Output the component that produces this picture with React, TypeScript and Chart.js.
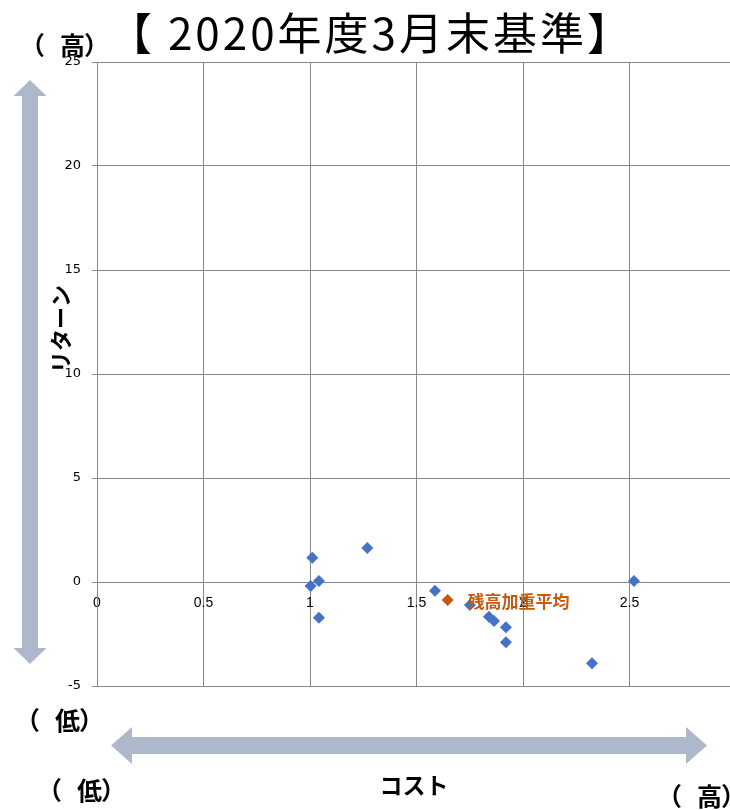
import React, { useEffect, useRef } from "react";
import { Chart, registerables } from "chart.js";

Chart.register(...registerables);

// Fund points: cost (x) and return (y)
const fundCosts = [1.011, 1.269, 1.042, 1.003, 1.042, 1.587, 1.751, 1.840, 1.864, 1.920, 1.920, 2.324, 2.521];
const fundReturns = [1.17, 1.63, 0.05, -0.19, -1.72, -0.42, -1.10, -1.67, -1.88, -2.18, -2.90, -3.91, 0.05];

// Balance-weighted average
const avgCosts = [1.646];
const avgReturns = [-0.87];
const avgLabel = "残高加重平均";

const titleText = "【 2020年度3月末基準】";
const yAxisTitle = "リターン";
const xAxisTitle = "コスト";
const highChar = "高";
const lowChar = "低";

const xMin = 0;
const xMax = 3;
const xStep = 0.5;
const yMin = -5;
const yMax = 25;
const yStep = 5;

const BLUE = "#4472C4";
const ORANGE = "#C55A11";
const ARROW = "#ADB9CA";
const GRID = "#888888";
const JP = "'Noto Sans CJK JP', sans-serif";

function vArrow(ctx: CanvasRenderingContext2D, cx: number, top: number, bottom: number, headLen: number, headHalf: number, shaftHalf: number) {
  ctx.beginPath();
  ctx.moveTo(cx, top);
  ctx.lineTo(cx + headHalf, top + headLen);
  ctx.lineTo(cx + shaftHalf, top + headLen);
  ctx.lineTo(cx + shaftHalf, bottom - headLen);
  ctx.lineTo(cx + headHalf, bottom - headLen);
  ctx.lineTo(cx, bottom);
  ctx.lineTo(cx - headHalf, bottom - headLen);
  ctx.lineTo(cx - shaftHalf, bottom - headLen);
  ctx.lineTo(cx - shaftHalf, top + headLen);
  ctx.lineTo(cx - headHalf, top + headLen);
  ctx.closePath();
  ctx.fill();
}

function hArrow(ctx: CanvasRenderingContext2D, cy: number, left: number, right: number, headLen: number, headHalf: number, shaftHalf: number) {
  ctx.beginPath();
  ctx.moveTo(left, cy);
  ctx.lineTo(left + headLen, cy - headHalf);
  ctx.lineTo(left + headLen, cy - shaftHalf);
  ctx.lineTo(right - headLen, cy - shaftHalf);
  ctx.lineTo(right - headLen, cy - headHalf);
  ctx.lineTo(right, cy);
  ctx.lineTo(right - headLen, cy + headHalf);
  ctx.lineTo(right - headLen, cy + shaftHalf);
  ctx.lineTo(left + headLen, cy + shaftHalf);
  ctx.lineTo(left + headLen, cy + headHalf);
  ctx.closePath();
  ctx.fill();
}

// Draws "（ X）" with the spacing seen in the reference
function parenLabel(ctx: CanvasRenderingContext2D, ch: string, x: number, y: number) {
  ctx.font = `bold 25px ${JP}`;
  ctx.textAlign = "left";
  ctx.textBaseline = "middle";
  ctx.fillText("（", x, y);
  ctx.fillText(ch, x + 40, y);
  ctx.fillText("）", x + 64, y);
}

const decorPlugin = {
  id: "decor",
  beforeDraw(chart: any) {
    const ctx: CanvasRenderingContext2D = chart.ctx;
    ctx.save();
    ctx.fillStyle = ARROW;
    vArrow(ctx, 30, 80, 664, 16, 16.5, 8);
    hArrow(ctx, 745.5, 111, 707, 21, 18.5, 8.5);
    ctx.restore();
  },
  afterDatasetsDraw(chart: any) {
    const ctx: CanvasRenderingContext2D = chart.ctx;
    const meta = chart.getDatasetMeta(1);
    const pt = meta.data[0];
    ctx.save();
    ctx.fillStyle = ORANGE;
    ctx.font = `bold 17px ${JP}`;
    ctx.textAlign = "left";
    ctx.textBaseline = "middle";
    ctx.fillText(avgLabel, pt.x + 20, pt.y + 1);
    ctx.restore();
  },
  afterDraw(chart: any) {
    const ctx: CanvasRenderingContext2D = chart.ctx;
    ctx.save();
    ctx.fillStyle = "#000";
    ctx.textBaseline = "middle";
    ctx.textAlign = "center";
    ctx.font = `44px ${JP}`;
    (ctx as any).letterSpacing = "3px";
    ctx.fillText(titleText, 371, 33);
    (ctx as any).letterSpacing = "0px";

    parenLabel(ctx, highChar, 20, 45);
    parenLabel(ctx, lowChar, 15, 720);
    parenLabel(ctx, lowChar, 37, 790);
    parenLabel(ctx, highChar, 657, 796);

    ctx.font = `bold 23px ${JP}`;
    ctx.textAlign = "center";
    ctx.fillText(xAxisTitle, 414, 785);

    ctx.translate(61, 329);
    ctx.rotate(-Math.PI / 2);
    ctx.font = `bold 22px ${JP}`;
    ctx.fillText(yAxisTitle, 0, 0);
    ctx.restore();
  },
};

export default function App() {
  const canvasRef = useRef<HTMLCanvasElement | null>(null);

  useEffect(() => {
    if (!canvasRef.current) return;
    const chart = new Chart(canvasRef.current, {
      type: "scatter",
      data: {
        datasets: [
          {
            label: "funds",
            data: fundCosts.map((x, i) => ({ x, y: fundReturns[i] })),
            backgroundColor: BLUE,
            borderColor: BLUE,
            pointStyle: "rectRot",
            pointRadius: 6,
            pointBorderWidth: 0,
          },
          {
            label: avgLabel,
            data: avgCosts.map((x, i) => ({ x, y: avgReturns[i] })),
            backgroundColor: ORANGE,
            borderColor: ORANGE,
            pointStyle: "rectRot",
            pointRadius: 6,
            pointBorderWidth: 0,
          },
        ],
      },
      options: {
        responsive: false,
        maintainAspectRatio: false,
        animation: false,
        devicePixelRatio: 1,
        layout: { padding: { left: 0, top: 62, right: 14, bottom: 124 } },
        plugins: {
          legend: { display: false },
          tooltip: { enabled: false },
          title: { display: false },
        },
        scales: {
          x: {
            type: "linear",
            position: { y: 0 } as any,
            min: xMin,
            max: xMax,
            afterFit: (axis: any) => {
              axis.paddingLeft = 0;
              axis.paddingRight = 0;
            },
            grid: { color: GRID, lineWidth: 1, drawTicks: false },
            border: { display: true, color: GRID },
            ticks: {
              stepSize: xStep,
              padding: 13,
              color: "#000",
              font: { family: "'Liberation Sans', sans-serif", size: 14 },
              maxRotation: 0,
              autoSkip: false,
              callback: (v: any) => String(Number(v)),
            },
          },
          y: {
            type: "linear",
            min: yMin,
            max: yMax,
            afterFit: (axis: any) => {
              axis.width = 97;
              axis.paddingTop = 0;
              axis.paddingBottom = 0;
            },
            grid: { color: GRID, lineWidth: 1, tickLength: 5 },
            border: { display: true, color: GRID },
            ticks: {
              stepSize: yStep,
              padding: 11,
              color: "#000",
              font: { family: "'DejaVu Sans', sans-serif", size: 13 },
            },
          },
        },
      },
      plugins: [decorPlugin],
    });
    return () => chart.destroy();
  }, []);

  return (
    <div
      style={{
        position: "fixed",
        left: 0,
        top: 0,
        width: 730,
        height: 810,
        overflow: "hidden",
        background: "#fff",
      }}
    >
      <canvas ref={canvasRef} width={750} height={810} style={{ width: 750, height: 810, display: "block" }} />
    </div>
  );
}
